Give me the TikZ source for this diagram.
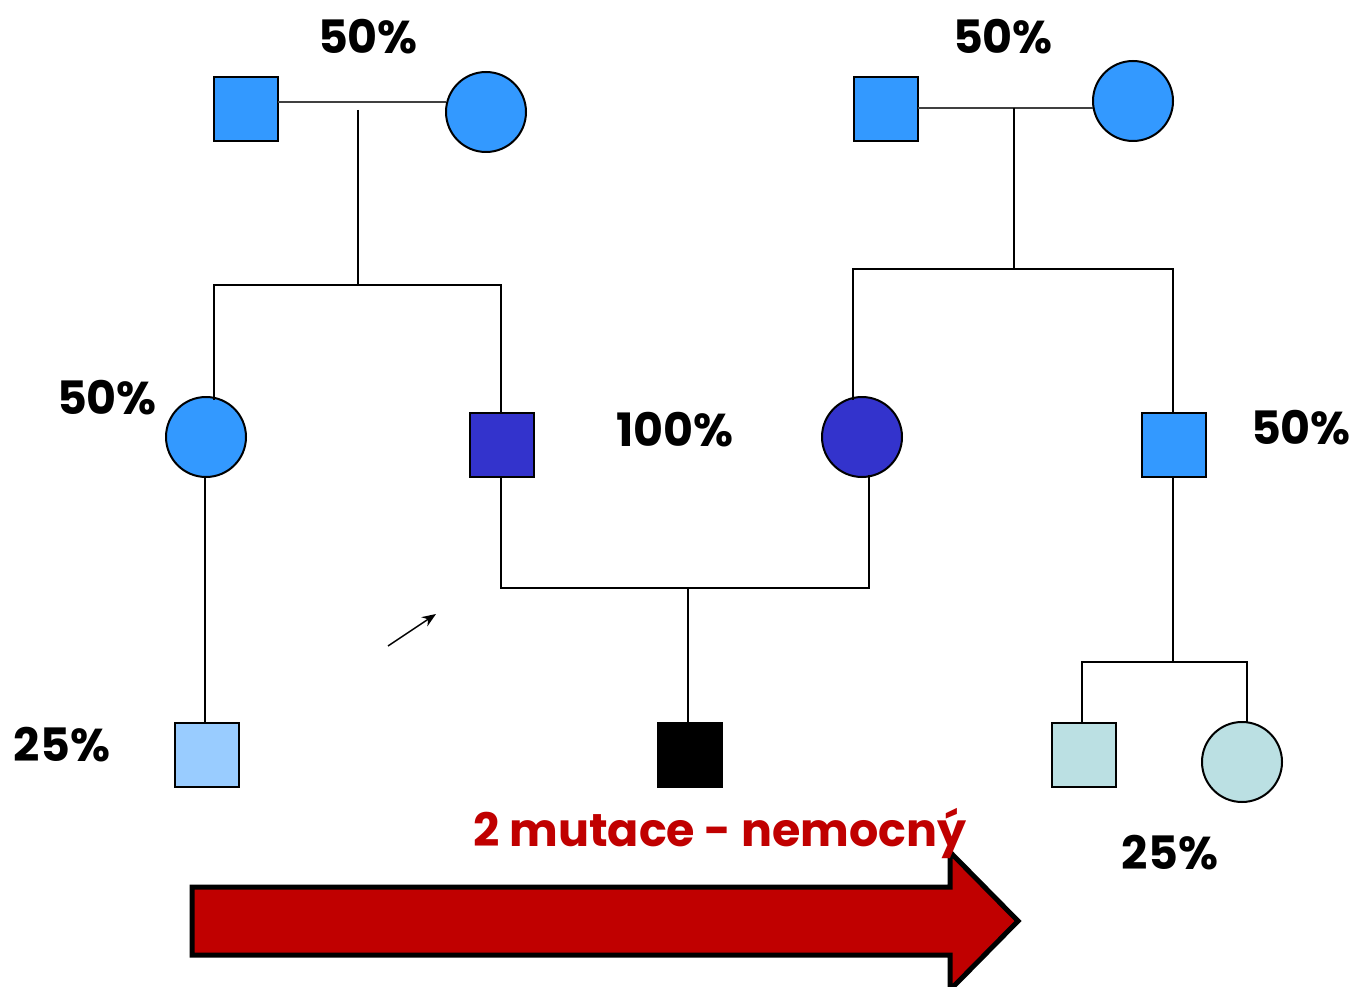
\documentclass[tikz,border=0pt]{standalone}
\usepackage{fontspec}
\usetikzlibrary{arrows.meta}
\newfontfamily\cf{Poppins}
\definecolor{bl}{HTML}{3399FF}
\definecolor{dbl}{HTML}{3333CC}
\definecolor{lbl}{HTML}{99CCFF}
\definecolor{tq}{HTML}{BBE0E3}
\definecolor{rd}{HTML}{C00000}
\begin{document}
\begin{tikzpicture}[x=1pt,y=-1pt,
  sq/.style={draw,line width=2pt,minimum size=64pt,inner sep=0pt,outer sep=0pt},
  ci/.style={circle,draw,line width=2pt,minimum size=80pt,inner sep=0pt,outer sep=0pt},
  ln/.style={line width=2pt},
  mar/.style={line width=2pt,black!75},
  pct/.style={font=\cf\bfseries\fontsize{46}{50}\selectfont,inner sep=0pt}]
\useasboundingbox (0,0) rectangle (1355,987);
% arrow
\fill[rd,draw=black,line width=5pt,line join=miter]
  (192,887) -- (950,887) -- (950,852) -- (1018,921) -- (950,990) -- (950,955) -- (192,955) -- cycle;
% generation I
\node[sq,fill=bl] (a1) at (245.5,109) {};
\node[ci,fill=bl] (a2) at (486,112) {};
\node[sq,fill=bl] (b1) at (885.5,109) {};
\node[ci,fill=bl] (b2) at (1133,101) {};
% generation II
\node[ci,fill=bl] (c1) at (206,437) {};
\node[sq,fill=dbl] (c2) at (502,444.5) {};
\node[ci,fill=dbl] (c3) at (862,437) {};
\node[sq,fill=bl] (c4) at (1174,444.5) {};
% generation III
\node[sq,fill=lbl] (d1) at (207,754.5) {};
\node[sq,fill=black] (d2) at (690,754.5) {};
\node[sq,fill=tq] (d3) at (1083.5,754.5) {};
\node[ci,fill=tq] (d4) at (1242,762) {};
% junctions
\coordinate (ja) at (358,102);
\coordinate (jas) at (358,285);
\coordinate (jb) at (1014,108);
\coordinate (jbs) at (1014,269);
\coordinate (jc) at (688,588);
\coordinate (jd) at (1173,662);
% connectors
\draw[mar] (a1.east |- ja) -- (a2.west |- ja);
\draw[ln] (358,110) -- (jas);
\draw[ln] (214,400) -- (214,285) -- (501,285) -- (501,412);
\draw[mar] (b1.east |- jb) -- (b2.west |- jb);
\draw[ln] (jb) -- (jbs);
\draw[ln] (853,400) -- (853,269) -- (1173,269) -- (1173,412);
\draw[ln] (205,477) -- (205,722);
\draw[ln] (501,477) -- (501,588) -- (869,588) -- (869,475);
\draw[ln] (jc) -- (688,722);
\draw[ln] (1173,477) -- (jd);
\draw[ln] (1082,722) -- (1082,662) -- (1247,662) -- (1247,722);
% small arrow
\coordinate (ps) at (388,646);
\coordinate (pe) at (436,614);
\draw[line width=1.5pt,-{Stealth[length=14pt,width=11pt]}] (ps) -- (pe);
% labels
\node[pct] (t1) at (368,37) {50\%};
\node[pct] (t2) at (1003,37) {50\%};
\node[pct] (t3) at (107,398) {50\%};
\node[pct] (t4) at (675,430) {100\%};
\node[pct] (t5) at (1301,428) {50\%};
\node[pct] (t6) at (62,745) {25\%};
\node[pct] (t7) at (1170,853) {25\%};
\node[pct,text=rd] (t8) at (720,833) {2 mutace - nemocný};
\end{tikzpicture}
\end{document}
